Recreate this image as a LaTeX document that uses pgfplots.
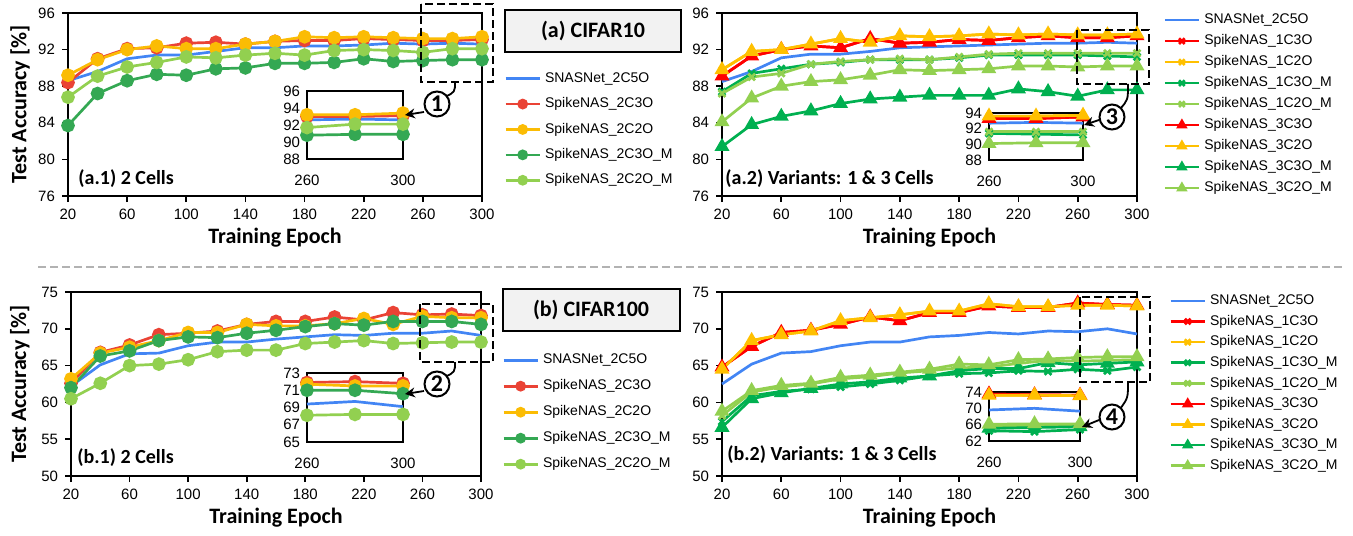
\documentclass[border=0pt]{standalone}
\usepackage{fontspec}
\setmainfont{Liberation Sans}
\newfontfamily\carlito{Carlito}
\usepackage{pgfplots}
\pgfplotsset{compat=1.18}
\usetikzlibrary{arrows.meta}

\definecolor{cblue}{HTML}{4285F4}
\definecolor{cred}{HTML}{EA4335}
\definecolor{cyel}{HTML}{FBBC04}
\definecolor{cgrn}{HTML}{34A853}
\definecolor{clgr}{HTML}{92D050}
\definecolor{tred}{HTML}{FF0000}
\definecolor{tyel}{HTML}{FFC000}
\definecolor{tgrn}{HTML}{00B050}

% CIFAR10, 2 cells
\pgfplotstableread{
ep  sn   c3   c2   c3m  c2m
20  88.6 88.4 89.2 83.7 86.8
40  89.6 91.0 90.9 87.2 89.1
60  91.0 92.1 92.0 88.6 90.1
80  91.4 92.2 92.4 89.3 90.6
100 91.4 92.7 92.1 89.2 91.2
120 91.8 92.8 92.1 89.9 91.1
140 92.2 92.6 92.6 90.0 91.4
160 92.2 92.9 92.9 90.5 91.6
180 92.4 93.0 93.4 90.5 91.4
200 92.4 93.0 93.3 90.6 91.9
220 92.5 93.2 93.4 91.0 92.0
240 92.7 93.1 93.3 90.7 91.9
260 92.6 93.0 93.2 90.8 91.7
280 92.7 93.0 93.2 90.9 92.1
300 92.6 93.1 93.4 90.9 92.1
}\dataA
% CIFAR10, 1 & 3 cells
\pgfplotstableread{
ep  sn   x3   x2   x3m  x2m  t3   t2   t3m  t2m
20  88.5 89.1 89.8 87.4 87.2 89.1 89.8 81.4 84.1
40  89.6 91.3 91.8 89.4 89.0 91.3 91.8 83.8 86.7
60  91.1 92.0 92.0 89.9 89.4 92.0 92.0 84.7 88.0
80  91.5 92.4 92.6 90.4 90.4 92.4 92.6 85.3 88.5
100 91.5 92.2 93.2 90.6 90.7 92.2 93.2 86.1 88.7
120 91.8 93.2 92.8 90.9 90.9 93.2 92.8 86.6 89.2
140 92.2 92.7 93.5 90.9 91.0 92.7 93.5 86.8 89.8
160 92.3 92.8 93.4 90.9 90.9 92.8 93.4 87.0 89.7
180 92.4 93.1 93.5 91.1 91.2 93.1 93.5 87.0 89.8
200 92.5 93.0 93.7 91.4 91.5 93.0 93.7 87.0 89.9
220 92.6 93.3 93.6 91.4 91.6 93.3 93.6 87.7 90.2
240 92.7 93.5 93.7 91.4 91.6 93.5 93.7 87.4 90.2
260 92.7 93.3 93.6 91.4 91.6 93.3 93.6 86.9 90.1
280 92.8 93.3 93.6 91.3 91.6 93.3 93.6 87.6 90.2
300 92.7 93.5 93.7 91.2 91.6 93.5 93.7 87.6 90.2
}\dataB
% CIFAR100, 2 cells
\pgfplotstableread{
ep  sn   c3   c2   c3m  c2m
20  62.2 62.6 63.2 62.0 60.5
40  65.1 66.8 66.7 66.3 62.6
60  66.6 67.8 67.5 67.0 65.0
80  66.7 69.2 68.4 68.4 65.2
100 67.7 69.4 69.5 68.9 65.8
120 68.2 69.7 69.5 68.8 66.9
140 68.2 70.6 70.6 69.4 67.1
160 68.6 71.0 70.4 69.8 67.1
180 68.9 71.0 70.4 70.3 68.0
200 69.2 71.6 70.7 70.7 68.2
220 69.1 71.2 71.4 70.5 68.4
240 69.4 72.2 70.6 71.0 68.0
260 69.4 71.9 71.7 71.0 68.1
280 69.7 72.0 71.5 71.0 68.2
300 69.1 71.8 71.5 70.6 68.2
}\dataC
% CIFAR100, 1 & 3 cells
\pgfplotstableread{
ep  sn   x3   x2   x3m  x2m  t3   t2   t3m  t2m
20  62.5 64.8 64.5 57.4 58.2 64.8 64.5 56.6 58.8
40  65.2 67.6 68.4 60.9 61.4 67.6 68.4 60.5 61.6
60  66.7 69.5 69.2 61.5 62.1 69.5 69.2 61.3 62.3
80  66.9 69.8 69.7 61.8 62.5 69.8 69.7 61.9 62.6
100 67.7 70.6 71.1 62.1 63.2 70.6 71.1 62.5 63.4
120 68.2 71.6 71.5 62.5 63.5 71.6 71.5 62.8 63.7
140 68.2 71.1 71.9 63.0 64.0 71.1 71.9 63.3 64.1
160 68.9 72.2 72.4 63.6 64.3 72.2 72.4 63.6 64.5
180 69.1 72.2 72.4 63.9 64.7 72.2 72.4 64.3 65.2
200 69.5 73.1 73.4 64.0 64.8 73.1 73.4 64.6 65.1
220 69.3 72.9 73.0 64.3 65.3 72.9 73.0 64.6 65.8
240 69.7 72.9 73.0 64.2 65.7 72.9 73.0 65.4 65.9
260 69.6 73.5 73.2 64.5 65.6 73.5 73.2 65.1 66.1
280 70.0 73.3 73.2 64.3 65.7 73.3 73.2 65.3 66.2
300 69.3 73.2 73.1 64.8 65.8 73.2 73.1 65.5 66.2
}\dataD

\pgfplotsset{
  base/.style={scale only axis, anchor=north west, clip=false,
    xmin=20, xmax=300, xtick={20,60,...,300},
    tick pos=left, tick align=outside, major tick length=3pt,
    axis line style={line width=1pt}, every tick/.style={black, line width=0.8pt},
    tick label style={font=\fontsize{7.5}{9}\selectfont},
    /pgf/number format/assume math mode=true,
    xlabel={\carlito\bfseries Training Epoch},
    label style={font=\fontsize{11}{13}\selectfont},
    xlabel style={at={(axis description cs:0.5,-0.23)}, anchor=center},
    legend cell align=left,
    legend style={anchor=north west, draw=none, fill=none, inner sep=0pt,
      font=\fontsize{7}{8.4}\selectfont,
      nodes={inner sep=0pt, text height=5.2pt, text depth=1.5pt},
      /tikz/every odd column/.append style={column sep=2pt}},
    legend image code/.code={\draw[mark repeat=2,mark phase=2,##1,mark size=2pt]
      plot coordinates {(0pt,0pt) (8.5pt,0pt) (17pt,0pt)};}},
  inset/.style={scale only axis, anchor=north west, clip=false,
    xmin=260, xmax=300, xtick={260,300}, major tick length=0pt,
    axis line style={line width=0.7pt}, axis background/.style={fill=white},
    tick label style={font=\fontsize{7.5}{9}\selectfont},
    /pgf/number format/assume math mode=true,
    xticklabel style={yshift=-4.5pt}},
  sn/.style={color=cblue, line width=1.35pt, mark=none},
  c3/.style={color=cred, line width=1.35pt, mark=*, mark size=2.75pt},
  c2/.style={color=cyel, line width=1.35pt, mark=*, mark size=2.75pt},
  c3m/.style={color=cgrn, line width=1.35pt, mark=*, mark size=2.75pt},
  c2m/.style={color=clgr, line width=1.35pt, mark=*, mark size=2.75pt},
  x3/.style={color=tred, line width=1.35pt, mark=x, mark size=2pt},
  x2/.style={color=tyel, line width=1.35pt, mark=x, mark size=2pt},
  x3m/.style={color=tgrn, line width=1.35pt, mark=x, mark size=2.4pt},
  x2m/.style={color=clgr, line width=1.35pt, mark=x, mark size=2.4pt},
  t3/.style={color=tred, line width=1.35pt, mark=triangle*, mark size=3pt},
  t2/.style={color=tyel, line width=1.35pt, mark=triangle*, mark size=3pt},
  t3m/.style={color=tgrn, line width=1.35pt, mark=triangle*, mark size=3pt},
  t2m/.style={color=clgr, line width=1.35pt, mark=triangle*, mark size=3pt},
}

\begin{document}
\begin{tikzpicture}
\useasboundingbox (0pt,0pt) rectangle (676.5pt,-267.5pt);

% (a.1)
\begin{axis}[base, at={(34pt,-6.5pt)}, width=207pt, height=91.5pt,
  ymin=76, ymax=96, ytick={76,80,...,96},
  ylabel={\carlito\bfseries Test Accuracy [\%]},
  ylabel style={at={(axis description cs:-0.116,0.5)}, anchor=center},
  legend style={at={(1.053,0.68)}, row sep=6pt}]
\addplot[sn] table[x=ep,y=sn]{\dataA};
\addplot[c3] table[x=ep,y=c3]{\dataA};
\addplot[c2] table[x=ep,y=c2]{\dataA};
\addplot[c3m] table[x=ep,y=c3m]{\dataA};
\addplot[c2m] table[x=ep,y=c2m]{\dataA};
\legend{SNASNet\_2C5O,SpikeNAS\_2C3O,SpikeNAS\_2C2O,SpikeNAS\_2C3O\_M,SpikeNAS\_2C2O\_M}
\end{axis}

% (a.2)
\begin{axis}[base, at={(361pt,-6.5pt)}, width=207.5pt, height=91.5pt,
  ymin=76, ymax=96, ytick={76,80,...,96},
  legend style={at={(1.063,1.0)}, row sep=3.8pt}]
\addplot[sn] table[x=ep,y=sn]{\dataB};
\addplot[x3] table[x=ep,y=x3]{\dataB};
\addplot[x2] table[x=ep,y=x2]{\dataB};
\addplot[x3m] table[x=ep,y=x3m]{\dataB};
\addplot[x2m] table[x=ep,y=x2m]{\dataB};
\addplot[t3] table[x=ep,y=t3]{\dataB};
\addplot[t2] table[x=ep,y=t2]{\dataB};
\addplot[t3m] table[x=ep,y=t3m]{\dataB};
\addplot[t2m] table[x=ep,y=t2m]{\dataB};
\legend{SNASNet\_2C5O,SpikeNAS\_1C3O,SpikeNAS\_1C2O,SpikeNAS\_1C3O\_M,SpikeNAS\_1C2O\_M,SpikeNAS\_3C3O,SpikeNAS\_3C2O,SpikeNAS\_3C3O\_M,SpikeNAS\_3C2O\_M}
\end{axis}

% (b.1)
\begin{axis}[base, at={(35.5pt,-146pt)}, width=205pt, height=92pt,
  ymin=50, ymax=75, ytick={50,55,...,75},
  ylabel={\carlito\bfseries Test Accuracy [\%]},
  ylabel style={at={(axis description cs:-0.125,0.5)}, anchor=center},
  xlabel style={at={(axis description cs:0.5,-0.228)}},
  legend style={at={(1.051,0.668)}, row sep=6.3pt}]
\addplot[sn] table[x=ep,y=sn]{\dataC};
\addplot[c3] table[x=ep,y=c3]{\dataC};
\addplot[c2] table[x=ep,y=c2]{\dataC};
\addplot[c3m] table[x=ep,y=c3m]{\dataC};
\addplot[c2m] table[x=ep,y=c2m]{\dataC};
\legend{SNASNet\_2C5O,SpikeNAS\_2C3O,SpikeNAS\_2C2O,SpikeNAS\_2C3O\_M,SpikeNAS\_2C2O\_M}
\end{axis}

% (b.2)
\begin{axis}[base, at={(361pt,-146pt)}, width=207.5pt, height=92pt,
  ymin=50, ymax=75, ytick={50,55,...,75},
  xlabel style={at={(axis description cs:0.5,-0.228)}},
  legend style={at={(1.077,0.99)}, row sep=3.6pt}]
\addplot[sn] table[x=ep,y=sn]{\dataD};
\addplot[x3] table[x=ep,y=x3]{\dataD};
\addplot[x2] table[x=ep,y=x2]{\dataD};
\addplot[x3m] table[x=ep,y=x3m]{\dataD};
\addplot[x2m] table[x=ep,y=x2m]{\dataD};
\addplot[t3] table[x=ep,y=t3]{\dataD};
\addplot[t2] table[x=ep,y=t2]{\dataD};
\addplot[t3m] table[x=ep,y=t3m]{\dataD};
\addplot[t2m] table[x=ep,y=t2m]{\dataD};
\legend{SNASNet\_2C5O,SpikeNAS\_1C3O,SpikeNAS\_1C2O,SpikeNAS\_1C3O\_M,SpikeNAS\_1C2O\_M,SpikeNAS\_3C3O,SpikeNAS\_3C2O,SpikeNAS\_3C3O\_M,SpikeNAS\_3C2O\_M}
\end{axis}

% insets
\begin{axis}[inset, at={(153.5pt,-45.5pt)}, width=48pt, height=34pt,
  ymin=88, ymax=96, ytick={88,90,...,96}]
\addplot[sn, restrict x to domain=260:300] table[x=ep,y=sn]{\dataA};
\addplot[c3, restrict x to domain=260:300] table[x=ep,y=c3]{\dataA};
\addplot[c2, restrict x to domain=260:300] table[x=ep,y=c2]{\dataA};
\addplot[c3m, restrict x to domain=260:300] table[x=ep,y=c3m]{\dataA};
\addplot[c2m, restrict x to domain=260:300] table[x=ep,y=c2m]{\dataA};
\end{axis}

\begin{axis}[inset, at={(494.5pt,-56.5pt)}, width=47pt, height=23.5pt,
  ymin=88, ymax=94, ytick={88,90,...,94}]
\addplot[sn, restrict x to domain=260:300] table[x=ep,y=sn]{\dataB};
\addplot[x3, restrict x to domain=260:300] table[x=ep,y=x3]{\dataB};
\addplot[x2, restrict x to domain=260:300] table[x=ep,y=x2]{\dataB};
\addplot[x3m, restrict x to domain=260:300] table[x=ep,y=x3m]{\dataB};
\addplot[x2m, restrict x to domain=260:300] table[x=ep,y=x2m]{\dataB};
\addplot[t3, restrict x to domain=260:300] table[x=ep,y=t3]{\dataB};
\addplot[t2, restrict x to domain=260:300] table[x=ep,y=t2]{\dataB};
\addplot[t2m, restrict x to domain=260:300] table[x=ep,y=t2m]{\dataB};
\end{axis}

\begin{axis}[inset, at={(153.5pt,-186.5pt)}, width=48pt, height=34.5pt,
  ymin=65, ymax=73, ytick={65,67,...,73}]
\addplot[sn, restrict x to domain=260:300] table[x=ep,y=sn]{\dataC};
\addplot[c3, restrict x to domain=260:300] table[x=ep,y=c3]{\dataC};
\addplot[c2, restrict x to domain=260:300] table[x=ep,y=c2]{\dataC};
\addplot[c3m, restrict x to domain=260:300] table[x=ep,y=c3m]{\dataC};
\addplot[c2m, restrict x to domain=260:300] table[x=ep,y=c2m]{\dataC};
\end{axis}

\begin{axis}[inset, at={(494.5pt,-196pt)}, width=45.5pt, height=24.5pt,
  ymin=62, ymax=74, ytick={62,66,70,74}]
\addplot[sn, restrict x to domain=260:300] table[x=ep,y=sn]{\dataD};
\addplot[x3, restrict x to domain=260:300] table[x=ep,y=x3]{\dataD};
\addplot[x2, restrict x to domain=260:300] table[x=ep,y=x2]{\dataD};
\addplot[x3m, restrict x to domain=260:300] table[x=ep,y=x3m]{\dataD};
\addplot[x2m, restrict x to domain=260:300] table[x=ep,y=x2m]{\dataD};
\addplot[t3, restrict x to domain=260:300] table[x=ep,y=t3]{\dataD};
\addplot[t2, restrict x to domain=260:300] table[x=ep,y=t2]{\dataD};
\addplot[t3m, restrict x to domain=260:300] table[x=ep,y=t3m]{\dataD};
\addplot[t2m, restrict x to domain=260:300] table[x=ep,y=t2m]{\dataD};
\end{axis}

% annotations, in pixel units of the reference
\begin{scope}[x=0.5pt, y=-0.5pt]
\draw[gray!60, line width=1pt, dash pattern=on 4pt off 2pt] (38,267) -- (1345,267);
\tikzset{zoombox/.style={line width=1pt, dash pattern=on 4pt off 2pt},
  num/.style={draw, line width=1pt, fill=white, circle, minimum size=12.5pt, inner sep=0pt,
    font=\carlito\bfseries\fontsize{12}{13}\selectfont},
  arr/.style={-{Stealth[length=5pt,width=5pt]}, line width=0.9pt},
  tag/.style={anchor=west, inner sep=0pt, font=\carlito\bfseries\fontsize{10}{12}\selectfont},
  title/.style={draw, line width=0.7pt, fill=gray!10}}
\draw[zoombox] (421,4) rectangle (493,82);
\draw[zoombox] (1077,30) rectangle (1149,84);
\draw[zoombox] (420,304) rectangle (493,362);
\draw[zoombox] (1080,297) rectangle (1150,382);
\draw[line width=0.9pt] (455,82) .. controls (455,92) .. (445,97);
\draw[line width=0.9pt] (1128,84) .. controls (1128,100) .. (1120,109);
\draw[line width=0.9pt] (455,362) .. controls (455,372) .. (445,377);
\draw[line width=0.9pt] (1128,382) .. controls (1128,398) .. (1120,409);
\node[num] at (437,104) {1};
\node[num] at (1112,117) {3};
\node[num] at (437,384) {2};
\node[num] at (1112,417) {4};
\draw[arr] (424,112) -- (405,115);
\draw[arr] (1099,120) -- (1084,125);
\draw[arr] (424,391) -- (405,394);
\draw[arr] (1099,420) -- (1082,427);
\draw[title] (505,10) rectangle (681,52);
\node[font=\carlito\bfseries\fontsize{11}{13}\selectfont] at (593,31) {(a) CIFAR10};
\draw[title] (503,289) rectangle (680,331);
\node[font=\carlito\bfseries\fontsize{11}{13}\selectfont] at (591,310) {(b) CIFAR100};
\node[tag] at (78,179) {(a.1) 2 Cells};
\node[tag] at (725,179) {(a.2) Variants: 1 \& 3 Cells};
\node[tag] at (77,458) {(b.1) 2 Cells};
\node[tag] at (727,455) {(b.2) Variants: 1 \& 3 Cells};
\end{scope}
\end{tikzpicture}
\end{document}
